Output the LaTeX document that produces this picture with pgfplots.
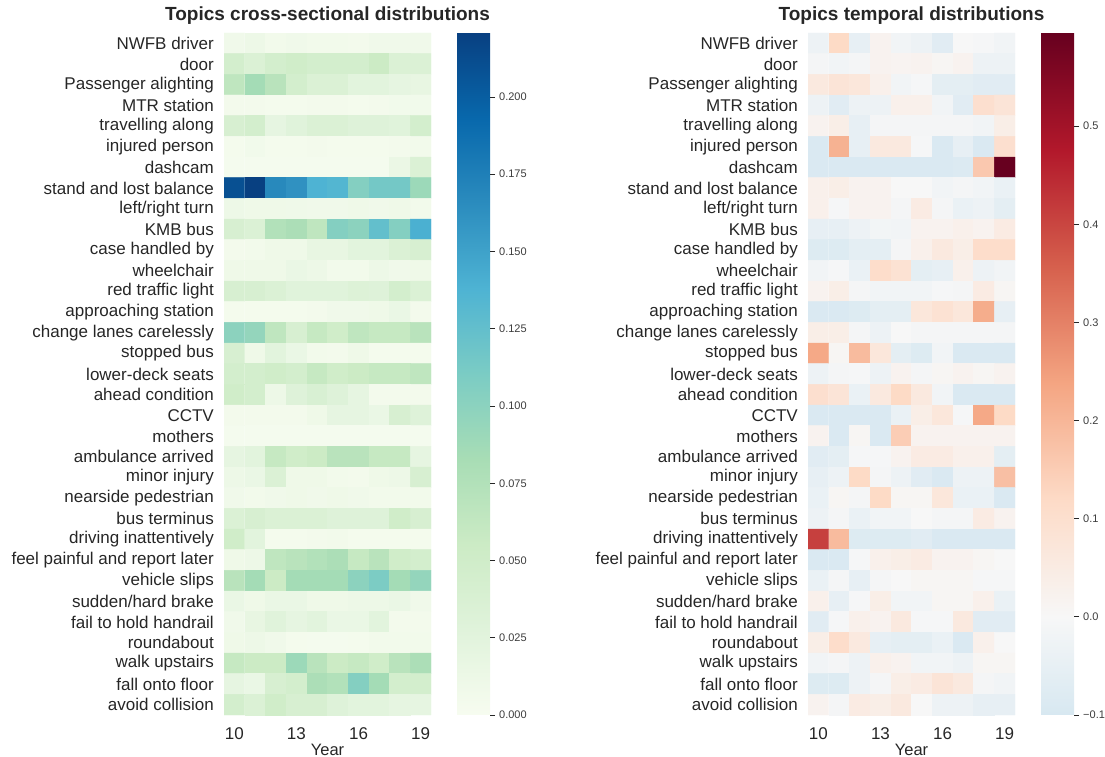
\documentclass[border=0pt]{standalone}
\usepackage{fontspec}
\setmainfont{Liberation Sans}
\usepackage{pgfplots}
\pgfplotsset{compat=1.18}

\definecolor{txt}{RGB}{38,38,38}
\definecolor{cbtxt}{RGB}{60,60,60}

% GnBu for the shares, RdBu (reversed, centred on zero) for the temporal deviations
\pgfplotsset{
  colormap={gnbu}{rgb255=(247,252,240) rgb255=(224,243,219) rgb255=(204,235,197)
    rgb255=(168,221,181) rgb255=(123,204,196) rgb255=(78,179,211) rgb255=(43,140,190)
    rgb255=(8,104,172) rgb255=(8,64,129)},
  colormap={rdbuc}{rgb255(0pt)=(215,232,241) rgb255(100pt)=(247,247,247)
    rgb255(219pt)=(253,219,199) rgb255(338pt)=(244,165,130) rgb255(457pt)=(214,96,77)
    rgb255(576pt)=(178,24,43) rgb255(695pt)=(103,0,31)},
  heat/.style={
    scale only axis, width=207pt, height=682pt, anchor=south west,
    xmin=-0.5, xmax=9.5, ymin=-0.5, ymax=32.5, y dir=reverse,
    axis line style={draw=none}, major tick length=0pt, tick style={draw=none},
    xtick={0,3,6,9}, xticklabels={10,13,16,19},
    ytick={0,...,32},
    yticklabels={NWFB driver, door, Passenger alighting, MTR station, travelling along,
      injured person, dashcam, stand and lost balance, left/right turn, KMB bus,
      case handled by, wheelchair, red traffic light, approaching station,
      change lanes carelessly, stopped bus, lower-deck seats, ahead condition, CCTV,
      mothers, ambulance arrived, minor injury, nearside pedestrian, bus terminus,
      driving inattentively, feel painful and report later, vehicle slips,
      sudden/hard brake, fail to hold handrail, roundabout, walk upstairs,
      fall onto floor, avoid collision},
    ticklabel style={font=\fontsize{17}{19}\selectfont, text=txt, inner sep=0pt},
    xticklabel style={yshift=-12pt},
    yticklabel style={xshift=-10pt},
    xlabel={Year},
    xlabel style={at={(axis description cs:0.5,0)}, anchor=north, yshift=-29pt,
      inner sep=0pt, font=\fontsize{16.5}{18}\selectfont, text=txt},
    title style={at={(axis description cs:0.5,1)}, anchor=base, yshift=6pt,
      inner sep=0pt, font=\fontsize{19}{21}\selectfont\bfseries, text=txt},
    colorbar,
    colorbar/width=33pt,
    colorbar shift/.style={xshift=26pt},
  },
  cbar/.style={
    at={(parent axis.north east)}, anchor=north west,
    scale only axis, width=33pt, height=682pt,
    axis line style={draw=none},
    ytick pos=right, tick align=outside, major tick length=5pt,
    ytick style={draw=txt, line width=0.9pt},
    yticklabel style={font=\fontsize{11}{13}\selectfont, text=cbtxt,
      inner xsep=0pt, xshift=4pt},
  },
}

\begin{document}
\begin{tikzpicture}
\useasboundingbox (0,0) rectangle (1105pt,757pt);

% ---- share of each topic within a year ----
\begin{axis}[heat, at={(224pt,42pt)},
  title={Topics cross-sectional distributions},
  colormap name=gnbu, point meta min=0, point meta max=0.2207,
  colorbar style={cbar,
    ytick={0,0.025,0.05,0.075,0.1,0.125,0.15,0.175,0.2},
    yticklabels={0.000,0.025,0.050,0.075,0.100,0.125,0.150,0.175,0.200}}]
\addplot[matrix plot*, mesh/cols=10, point meta=explicit] coordinates {
(0,0)[.008] (1,0)[.012] (2,0)[.006] (3,0)[.008] (4,0)[.006] (5,0)[.006] (6,0)[.005] (7,0)[.008] (8,0)[.008] (9,0)[.008]
(0,1)[.045] (1,1)[.035] (2,1)[.045] (3,1)[.05] (4,1)[.045] (5,1)[.045] (6,1)[.045] (7,1)[.055] (8,1)[.035] (9,1)[.035]
(0,2)[.065] (1,2)[.085] (2,2)[.07] (3,2)[.045] (4,2)[.035] (5,2)[.035] (6,2)[.025] (7,2)[.025] (8,2)[.02] (9,2)[.018]
(0,3)[.005] (1,3)[.005] (2,3)[.004] (3,3)[.004] (4,3)[.005] (5,3)[.005] (6,3)[.004] (7,3)[.005] (8,3)[.007] (9,3)[.007]
(0,4)[.04] (1,4)[.045] (2,4)[.02] (3,4)[.028] (4,4)[.035] (5,4)[.035] (6,4)[.03] (7,4)[.03] (8,4)[.028] (9,4)[.045]
(0,5)[.004] (1,5)[.007] (2,5)[.004] (3,5)[.004] (4,5)[.005] (5,5)[.004] (6,5)[.004] (7,5)[.004] (8,5)[.005] (9,5)[.006]
(0,6)[.003] (1,6)[.003] (2,6)[.003] (3,6)[.003] (4,6)[.003] (5,6)[.003] (6,6)[.003] (7,6)[.003] (8,6)[.014] (9,6)[.035]
(0,7)[.21] (1,7)[.2207] (2,7)[.168] (3,7)[.162] (4,7)[.138] (5,7)[.135] (6,7)[.105] (7,7)[.115] (8,7)[.115] (9,7)[.09]
(0,8)[.012] (1,8)[.01] (2,8)[.01] (3,8)[.009] (4,8)[.008] (5,8)[.008] (6,8)[.01] (7,8)[.008] (8,8)[.01] (9,8)[.006]
(0,9)[.04] (1,9)[.035] (2,9)[.075] (3,9)[.08] (4,9)[.065] (5,9)[.105] (6,9)[.1] (7,9)[.125] (8,9)[.105] (9,9)[.14]
(0,10)[.005] (1,10)[.006] (2,10)[.01] (3,10)[.01] (4,10)[.018] (5,10)[.018] (6,10)[.025] (7,10)[.025] (8,10)[.035] (9,10)[.04]
(0,11)[.01] (1,11)[.01] (2,11)[.01] (3,11)[.015] (4,11)[.012] (5,11)[.006] (6,11)[.006] (7,11)[.012] (8,11)[.008] (9,11)[.01]
(0,12)[.04] (1,12)[.04] (2,12)[.035] (3,12)[.028] (4,12)[.028] (5,12)[.028] (6,12)[.032] (7,12)[.03] (8,12)[.045] (9,12)[.035]
(0,13)[.004] (1,13)[.004] (2,13)[.004] (3,13)[.004] (4,13)[.005] (5,13)[.008] (6,13)[.008] (7,13)[.01] (8,13)[.015] (9,13)[.005]
(0,14)[.1] (1,14)[.095] (2,14)[.065] (3,14)[.04] (4,14)[.06] (5,14)[.05] (6,14)[.065] (7,14)[.06] (8,14)[.06] (9,14)[.07]
(0,15)[.04] (1,15)[.01] (2,15)[.025] (3,15)[.015] (4,15)[.006] (5,15)[.005] (6,15)[.01] (7,15)[.004] (8,15)[.004] (9,15)[.004]
(0,16)[.045] (1,16)[.045] (2,16)[.05] (3,16)[.045] (4,16)[.06] (5,16)[.05] (6,16)[.055] (7,16)[.06] (8,16)[.06] (9,16)[.065]
(0,17)[.05] (1,17)[.045] (2,17)[.012] (3,17)[.03] (4,17)[.038] (5,17)[.03] (6,17)[.02] (7,17)[.005] (8,17)[.005] (9,17)[.005]
(0,18)[.005] (1,18)[.005] (2,18)[.005] (3,18)[.005] (4,18)[.01] (5,18)[.02] (6,18)[.02] (7,18)[.015] (8,18)[.04] (9,18)[.03]
(0,19)[.003] (1,19)[.003] (2,19)[.003] (3,19)[.003] (4,19)[.003] (5,19)[.003] (6,19)[.003] (7,19)[.003] (8,19)[.003] (9,19)[.003]
(0,20)[.02] (1,20)[.025] (2,20)[.06] (3,20)[.05] (4,20)[.055] (5,20)[.07] (6,20)[.07] (7,20)[.06] (8,20)[.06] (9,20)[.02]
(0,21)[.012] (1,21)[.015] (2,21)[.035] (3,21)[.01] (4,21)[.01] (5,21)[.006] (6,21)[.005] (7,21)[.01] (8,21)[.012] (9,21)[.04]
(0,22)[.008] (1,22)[.006] (2,22)[.008] (3,22)[.01] (4,22)[.008] (5,22)[.01] (6,22)[.008] (7,22)[.006] (8,22)[.006] (9,22)[.006]
(0,23)[.035] (1,23)[.04] (2,23)[.035] (3,23)[.035] (4,23)[.035] (5,23)[.03] (6,23)[.03] (7,23)[.03] (8,23)[.05] (9,23)[.04]
(0,24)[.05] (1,24)[.025] (2,24)[.004] (3,24)[.004] (4,24)[.005] (5,24)[.006] (6,24)[.004] (7,24)[.004] (8,24)[.004] (9,24)[.004]
(0,25)[.01] (1,25)[.012] (2,25)[.065] (3,25)[.07] (4,25)[.075] (5,25)[.08] (6,25)[.06] (7,25)[.07] (8,25)[.05] (9,25)[.045]
(0,26)[.07] (1,26)[.085] (2,26)[.055] (3,26)[.085] (4,26)[.085] (5,26)[.085] (6,26)[.1] (7,26)[.11] (8,26)[.085] (9,26)[.095]
(0,27)[.015] (1,27)[.01] (2,27)[.015] (3,27)[.015] (4,27)[.01] (5,27)[.01] (6,27)[.012] (7,27)[.012] (8,27)[.015] (9,27)[.008]
(0,28)[.008] (1,28)[.018] (2,28)[.028] (3,28)[.02] (4,28)[.025] (5,28)[.015] (6,28)[.015] (7,28)[.025] (8,28)[.005] (9,28)[.005]
(0,29)[.01] (1,29)[.012] (2,29)[.008] (3,29)[.004] (4,29)[.003] (5,29)[.003] (6,29)[.004] (7,29)[.006] (8,29)[.006] (9,29)[.006]
(0,30)[.06] (1,30)[.055] (2,30)[.055] (3,30)[.09] (4,30)[.07] (5,30)[.055] (6,30)[.06] (7,30)[.05] (8,30)[.07] (9,30)[.08]
(0,31)[.02] (1,31)[.015] (2,31)[.04] (3,31)[.045] (4,31)[.08] (5,31)[.075] (6,31)[.105] (7,31)[.085] (8,31)[.045] (9,31)[.045]
(0,32)[.045] (1,32)[.035] (2,32)[.05] (3,32)[.04] (4,32)[.04] (5,32)[.03] (6,32)[.025] (7,32)[.025] (8,32)[.02] (9,32)[.02]
};
\end{axis}

% ---- deviation of each topic over the years ----
\begin{axis}[heat, at={(808pt,42pt)},
  title={Topics temporal distributions},
  colormap name=rdbuc, point meta min=-0.1, point meta max=0.595,
  colorbar style={cbar,
    ytick={-0.1,0,0.1,0.2,0.3,0.4,0.5},
    yticklabels={−0.1,0.0,0.1,0.2,0.3,0.4,0.5}}]
\addplot[matrix plot*, mesh/cols=10, point meta=explicit] coordinates {
(0,0)[-.03] (1,0)[.12] (2,0)[-.05] (3,0)[.02] (4,0)[-.02] (5,0)[-.03] (6,0)[-.07] (7,0)[0] (8,0)[-.005] (9,0)[-.02]
(0,1)[-.01] (1,1)[-.02] (2,1)[-.01] (3,1)[.02] (4,1)[.015] (5,1)[.02] (6,1)[.01] (7,1)[.02] (8,1)[-.03] (9,1)[-.03]
(0,2)[.06] (1,2)[.08] (2,2)[.07] (3,2)[.03] (4,2)[-.02] (5,2)[-.005] (6,2)[-.06] (7,2)[-.06] (8,2)[-.07] (9,2)[-.07]
(0,3)[-.03] (1,3)[-.07] (2,3)[-.03] (3,3)[-.03] (4,3)[.03] (5,3)[.03] (6,3)[-.02] (7,3)[-.07] (8,3)[.1] (9,3)[.08]
(0,4)[.02] (1,4)[.04] (2,4)[-.05] (3,4)[-.01] (4,4)[-.01] (5,4)[-.01] (6,4)[-.01] (7,4)[-.01] (8,4)[-.02] (9,4)[.04]
(0,5)[-.09] (1,5)[.21] (2,5)[-.05] (3,5)[.06] (4,5)[.06] (5,5)[-.005] (6,5)[-.09] (7,5)[-.05] (8,5)[-.09] (9,5)[.1]
(0,6)[-.09] (1,6)[-.09] (2,6)[-.09] (3,6)[-.09] (4,6)[-.09] (5,6)[-.09] (6,6)[-.09] (7,6)[-.085] (8,6)[.16] (9,6)[.595]
(0,7)[.03] (1,7)[.04] (2,7)[.02] (3,7)[.02] (4,7)[0] (5,7)[0] (6,7)[-.02] (7,7)[-.01] (8,7)[-.02] (9,7)[-.04]
(0,8)[.03] (1,8)[-.005] (2,8)[.02] (3,8)[.02] (4,8)[-.01] (5,8)[.05] (6,8)[-.01] (7,8)[-.04] (8,8)[-.03] (9,8)[-.06]
(0,9)[-.05] (1,9)[-.05] (2,9)[-.03] (3,9)[-.015] (4,9)[-.02] (5,9)[.02] (6,9)[.02] (7,9)[.03] (8,9)[.02] (9,9)[.05]
(0,10)[-.08] (1,10)[-.08] (2,10)[-.06] (3,10)[-.06] (4,10)[-.01] (5,10)[.03] (6,10)[.06] (7,10)[.04] (8,10)[.11] (9,10)[.11]
(0,11)[-.02] (1,11)[-.005] (2,11)[-.04] (3,11)[.11] (4,11)[.09] (5,11)[-.06] (6,11)[-.05] (7,11)[.03] (8,11)[-.03] (9,11)[-.02]
(0,12)[.02] (1,12)[.04] (2,12)[-.01] (3,12)[-.02] (4,12)[-.02] (5,12)[-.02] (6,12)[-.005] (7,12)[-.01] (8,12)[.05] (9,12)[.01]
(0,13)[-.09] (1,13)[-.09] (2,13)[-.08] (3,13)[-.06] (4,13)[-.06] (5,13)[.07] (6,13)[.09] (7,13)[.07] (8,13)[.22] (9,13)[-.05]
(0,14)[.04] (1,14)[.04] (2,14)[-.01] (3,14)[-.03] (4,14)[0] (5,14)[-.01] (6,14)[-.01] (7,14)[-.01] (8,14)[-.01] (9,14)[-.01]
(0,15)[.23] (1,15)[.01] (2,15)[.19] (3,15)[.07] (4,15)[-.06] (5,15)[-.08] (6,15)[-.02] (7,15)[-.09] (8,15)[-.09] (9,15)[-.09]
(0,16)[-.03] (1,16)[-.01] (2,16)[-.005] (3,16)[-.03] (4,16)[.02] (5,16)[-.01] (6,16)[.01] (7,16)[.02] (8,16)[.01] (9,16)[.02]
(0,17)[.1] (1,17)[.08] (2,17)[-.04] (3,17)[.06] (4,17)[.12] (5,17)[.06] (6,17)[-.02] (7,17)[-.09] (8,17)[-.09] (9,17)[-.09]
(0,18)[-.09] (1,18)[-.09] (2,18)[-.09] (3,18)[-.09] (4,18)[-.04] (5,18)[.04] (6,18)[.07] (7,18)[-.005] (8,18)[.23] (9,18)[.12]
(0,19)[.02] (1,19)[-.09] (2,19)[.01] (3,19)[-.09] (4,19)[.15] (5,19)[.02] (6,19)[.02] (7,19)[.02] (8,19)[.02] (9,19)[.02]
(0,20)[-.07] (1,20)[-.06] (2,20)[-.005] (3,20)[-.005] (4,20)[.02] (5,20)[.05] (6,20)[.05] (7,20)[.03] (8,20)[.03] (9,20)[-.06]
(0,21)[-.05] (1,21)[-.03] (2,21)[.12] (3,21)[-.01] (4,21)[-.03] (5,21)[-.07] (6,21)[-.09] (7,21)[-.03] (8,21)[-.03] (9,21)[.18]
(0,22)[-.04] (1,22)[.01] (2,22)[-.01] (3,22)[.12] (4,22)[.01] (5,22)[.01] (6,22)[.07] (7,22)[-.04] (8,22)[-.04] (9,22)[-.09]
(0,23)[-.03] (1,23)[-.01] (2,23)[-.04] (3,23)[-.02] (4,23)[-.02] (5,23)[0] (6,23)[-.01] (7,23)[-.01] (8,23)[.05] (9,23)[.02]
(0,24)[.41] (1,24)[.19] (2,24)[-.08] (3,24)[-.08] (4,24)[-.08] (5,24)[-.07] (6,24)[-.09] (7,24)[-.09] (8,24)[-.09] (9,24)[-.09]
(0,25)[-.09] (1,25)[-.09] (2,25)[-.005] (3,25)[.03] (4,25)[.04] (5,25)[.05] (6,25)[.02] (7,25)[.02] (8,25)[.01] (9,25)[0]
(0,26)[-.04] (1,26)[-.01] (2,26)[-.05] (3,26)[-.01] (4,26)[0] (5,26)[.01] (6,26)[.01] (7,26)[.01] (8,26)[-.005] (9,26)[-.005]
(0,27)[.03] (1,27)[-.05] (2,27)[-.005] (3,27)[.04] (4,27)[-.02] (5,27)[-.02] (6,27)[.01] (7,27)[.01] (8,27)[.03] (9,27)[-.04]
(0,28)[-.07] (1,28)[-.005] (2,28)[.03] (3,28)[.02] (4,28)[.06] (5,28)[-.005] (6,28)[-.005] (7,28)[.06] (8,28)[-.07] (9,28)[-.07]
(0,29)[.04] (1,29)[.11] (2,29)[.06] (3,29)[-.05] (4,29)[-.06] (5,29)[-.06] (6,29)[-.04] (7,29)[-.09] (8,29)[.03] (9,29)[0]
(0,30)[-.02] (1,30)[-.01] (2,30)[-.03] (3,30)[.03] (4,30)[.02] (5,30)[-.02] (6,30)[-.02] (7,30)[-.03] (8,30)[.01] (9,30)[.01]
(0,31)[-.08] (1,31)[-.08] (2,31)[-.03] (3,31)[-.01] (4,31)[.04] (5,31)[.05] (6,31)[.08] (7,31)[.06] (8,31)[-.01] (9,31)[-.02]
(0,32)[.02] (1,32)[-.01] (2,32)[.05] (3,32)[.04] (4,32)[.06] (5,32)[0] (6,32)[-.03] (7,32)[-.03] (8,32)[-.05] (9,32)[-.05]
};
\end{axis}
\end{tikzpicture}
\end{document}
